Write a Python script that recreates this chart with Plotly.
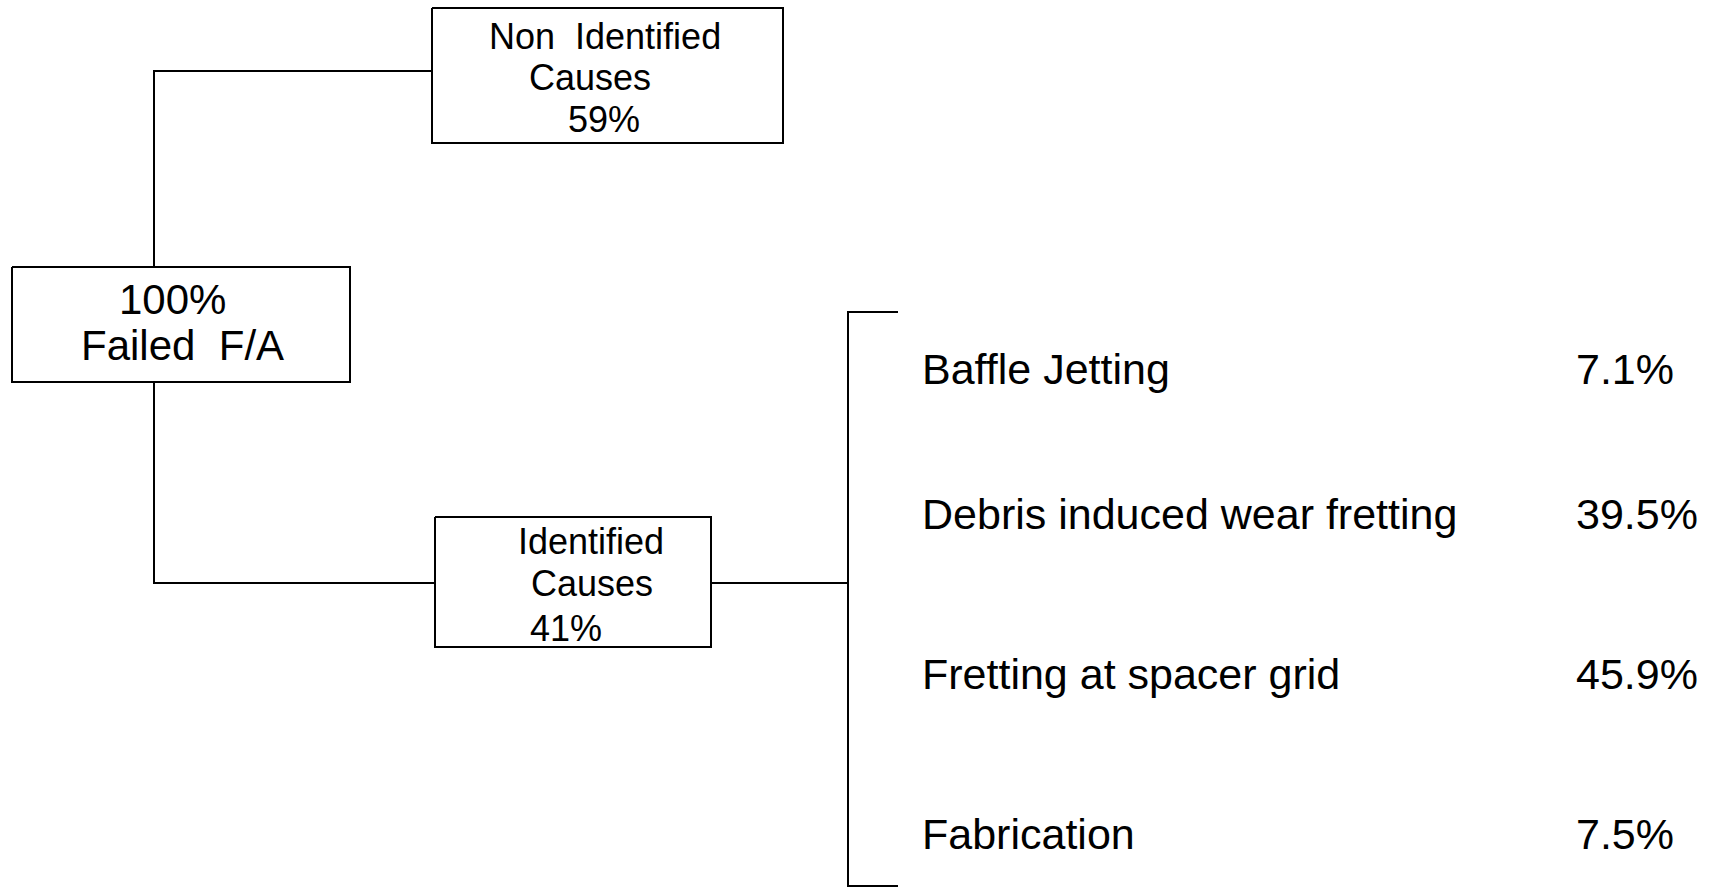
import plotly.graph_objects as go

# Data
total_label = "Failed  F/A"
total_pct = 100
non_identified_pct = 59
identified_pct = 41
causes = ["Baffle Jetting", "Debris induced wear fretting", "Fretting at spacer grid", "Fabrication"]
cause_pct = [7.1, 39.5, 45.9, 7.5]

# Layout (pixel coordinates on a 1716x887 canvas)
W, H = 1716, 887
ink = "#000000"
font_family = "Liberation Sans, Arial, sans-serif"

boxes = {
    "total": (12, 350, 267, 382),
    "non": (432, 783, 8, 143),
    "ident": (435, 711, 517, 647),
}
trunk_x = 154
bracket_x = 848
bracket_top, bracket_bot = 312, 886
tick_end = 898
row_y = [368, 513, 673, 833]
label_x = 920
pct_x = 1574

fig = go.Figure()


def add_line(xs, ys, width=2):
    fig.add_trace(go.Scatter(
        x=xs, y=ys, mode="lines",
        line=dict(color=ink, width=width),
        showlegend=False, hoverinfo="skip"
    ))


def add_box(key):
    x0, x1, y0, y1 = boxes[key]
    add_line([x0, x1, x1, x0, x0], [y0, y0, y1, y1, y0])


def add_text(x, y, text, size, anchor="center"):
    fig.add_annotation(
        x=x, y=y, xref="x", yref="y", text=text, showarrow=False,
        xanchor=anchor, yanchor="middle",
        font=dict(family=font_family, size=size, color=ink)
    )


for k in boxes:
    add_box(k)

# Connectors
non = boxes["non"]
tot = boxes["total"]
idf = boxes["ident"]
non_mid = 71
idf_mid = 583
add_line([trunk_x, trunk_x, non[0]], [tot[2], non_mid, non_mid])
add_line([trunk_x, trunk_x, idf[0]], [tot[3], idf_mid, idf_mid])
add_line([idf[1], bracket_x], [idf_mid, idf_mid])
add_line([tick_end, bracket_x, bracket_x, tick_end],
         [bracket_top, bracket_top, bracket_bot, bracket_bot])

# Box texts
add_text(172, 299, f"{total_pct}%", 42)
add_text(182, 345, total_label, 42)

add_text(605, 36, "Non  Identified", 36)
add_text(590, 77, "Causes", 36)
add_text(604, 119, f"{non_identified_pct}%", 36)

add_text(591, 541, "Identified", 36)
add_text(592, 583, "Causes", 36)
add_text(566, 628, f"{identified_pct}%", 36)

# Cause list
for name, pct, y in zip(causes, cause_pct, row_y):
    add_text(label_x, y + 1, name, 43, anchor="left")
    add_text(pct_x, y + 1, f"{pct}%", 43, anchor="left")

fig.update_layout(
    width=W, height=H, autosize=False,
    margin=dict(l=0, r=0, t=0, b=0),
    xaxis=dict(range=[0, W], visible=False, fixedrange=True),
    yaxis=dict(range=[H, 0], visible=False, fixedrange=True),
    plot_bgcolor="white", paper_bgcolor="white",
)

fig.write_html(
    "out.html",
    config={"displayModeBar": False},
    post_script="document.body.style.margin='0';document.body.style.overflow='hidden';",
)
